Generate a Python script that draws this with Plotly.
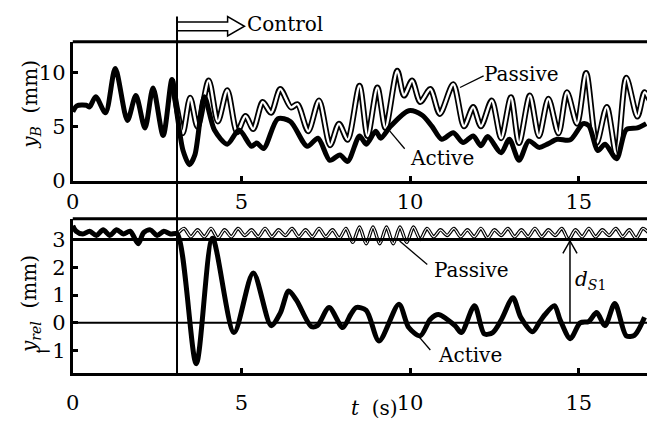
import plotly.graph_objects as go

# ---------------- data ----------------
# upper panel: y_B (mm)
t_active_top = [0.0, 0.12, 0.4, 0.5, 0.68, 0.97, 1.26, 1.62, 1.87, 2.14, 2.38, 2.68, 2.94, 3.1, 3.27,
                3.46, 3.62, 3.9, 4.2, 4.58, 4.93, 5.3, 5.45, 5.66, 6.08, 6.45, 6.95, 7.27, 7.62, 7.92,
                8.15, 8.5, 8.7, 8.98, 9.13, 9.42, 9.96, 10.35, 10.65, 10.94, 11.28, 11.57, 11.87, 12.1,
                12.3, 12.7, 12.94, 13.23, 13.52, 13.82, 14.07, 14.36, 14.75, 15.13, 15.3, 15.57, 15.78,
                16.12, 16.41, 16.74, 17.0]
yB_active = [6.4, 6.95, 7.0, 6.85, 7.8, 6.3, 10.4, 5.6, 7.9, 4.9, 8.6, 4.2, 9.4, 6.0, 2.8,
             1.5, 2.4, 7.8, 4.7, 3.4, 4.7, 3.2, 3.5, 3.0, 5.75, 5.5, 3.2, 3.95, 1.9, 2.4,
             1.8, 4.15, 3.4, 4.6, 3.95, 5.05, 6.5, 6.1, 5.05, 3.85, 4.45, 3.55, 4.15, 3.25,
             4.1, 2.6, 3.85, 1.9, 3.7, 3.1, 3.4, 3.85, 3.8, 5.3, 5.1, 2.8, 3.4,
             2.05, 4.75, 4.9, 5.3]

t_passive_top = [2.94, 3.1, 3.26, 3.48, 3.7, 4.03, 4.3, 4.58, 4.87, 5.12, 5.35, 5.63, 5.88, 6.15,
                 6.47, 6.66, 6.98, 7.3, 7.63, 7.89, 8.15, 8.5, 8.74, 9.03, 9.27, 9.62, 9.82, 10.06,
                 10.3, 10.6, 10.88, 11.28, 11.6, 11.87, 12.1, 12.42, 12.7, 12.99, 13.23, 13.55,
                 13.82, 14.1, 14.4, 14.65, 14.95, 15.22, 15.53, 15.83, 16.12, 16.41, 16.74, 16.95, 17.1]
yB_passive = [9.4, 6.5, 4.4, 7.7, 5.0, 9.3, 5.5, 8.4, 4.5, 6.0, 4.8, 7.3, 6.3, 8.5,
              6.8, 7.1, 4.6, 7.45, 3.3, 5.3, 3.8, 8.8, 4.15, 8.65, 4.9, 10.2, 7.9, 9.3,
              7.3, 8.5, 6.2, 8.95, 5.05, 6.85, 5.05, 7.45, 3.95, 7.75, 3.5, 7.9,
              4.15, 7.6, 4.4, 8.2, 5.3, 10.0, 3.5, 6.85, 2.35, 9.55, 5.95, 8.2, 7.5]

# lower panel: y_rel (mm)
t_active_low = [0.0, 0.1, 0.3, 0.5, 0.7, 0.9, 1.1, 1.3, 1.5, 1.7, 1.94, 2.1, 2.3, 2.5, 2.7, 2.9, 3.1,
                3.66, 4.14, 4.78, 5.35, 5.88, 6.15, 6.4, 6.63, 7.07, 7.25, 7.6, 8.0, 8.24, 8.4, 8.7,
                9.08, 9.67, 9.96, 10.3, 10.6, 10.84, 11.33, 11.52, 11.91, 12.2, 12.45, 12.7, 13.05,
                13.28, 13.63, 13.85, 14.0, 14.28, 14.45, 14.75, 15.04, 15.3, 15.53, 15.78, 16.07,
                16.41, 16.65, 16.95]
yrel_active = [3.5, 3.3, 3.2, 3.3, 3.15, 3.35, 3.15, 3.35, 3.2, 3.3, 2.85, 3.25, 3.35, 3.15, 3.3, 3.2, 3.2,
               -1.47, 3.05, -0.35, 1.8, -0.1, 0.35, 1.15, 0.82, -0.13, -0.1, 0.55, -0.17, 0.3, 0.55, 0.45,
               -0.65, 0.67, -0.17, -0.47, 0.13, 0.3, -0.1, -0.35, 0.62, -0.4, -0.35, 0.1, 0.9,
               0.2, -0.32, 0.05, 0.3, 0.62, 0.1, -0.57, 0.0, 0.05, 0.37, -0.1, 0.7,
               -0.47, -0.45, 0.2]

t_passive_low = [3.1, 3.3, 3.5, 3.7, 3.9, 4.1, 4.3, 4.5, 4.7, 4.9, 5.1, 5.3, 5.5, 5.7, 5.9, 6.1, 6.3,
                 6.5, 6.7, 6.9, 7.1, 7.3, 7.5, 7.7, 7.9, 8.1, 8.3, 8.5, 8.7, 8.9, 9.1, 9.3, 9.5, 9.7,
                 9.9, 10.1, 10.3, 10.5, 10.7, 10.9, 11.1, 11.3, 11.5, 11.7, 11.9, 12.1, 12.3, 12.5,
                 12.7, 12.9, 13.1, 13.3, 13.5, 13.7, 13.9, 14.1, 14.3, 14.5, 14.7, 14.9, 15.1, 15.3,
                 15.5, 15.7, 15.9, 16.1, 16.3, 16.5, 16.7, 16.9, 17.1]
yrel_passive = [3.2, 3.4, 3.1, 3.35, 3.1, 3.4, 3.05, 3.35, 3.1, 3.4, 3.15, 3.35, 3.1, 3.4, 3.1, 3.35, 3.15,
                3.4, 3.1, 3.35, 3.1, 3.4, 3.1, 3.35, 3.05, 3.4, 2.9, 3.45, 2.85, 3.45, 2.85, 3.45, 2.85, 3.45,
                2.9, 3.45, 3.0, 3.4, 3.1, 3.35, 3.15, 3.4, 3.1, 3.35, 3.1, 3.4, 3.05, 3.35,
                3.15, 3.4, 3.1, 3.35, 3.1, 3.4, 3.1, 3.35, 3.15, 3.4, 3.0, 3.35, 3.1, 3.4,
                3.1, 3.35, 3.15, 3.4, 3.1, 3.35, 3.05, 3.4, 3.2]

x_ticks = [0, 5, 10, 15]
yB_ticks = [0, 5, 10]
yrel_ticks = [-1, 0, 1, 2, 3]

t_control = 3.09
d_S1_t = 14.74
d_S1_level = 3.0

# ---------------- figure ----------------
W, H = 647, 433
FONT = "DejaVu Serif"
X0 = 66.5 / W

fig = go.Figure()

fig.add_trace(go.Scatter(x=t_passive_top, y=yB_passive, mode="lines", line=dict(color="black", width=6, shape="spline", smoothing=0.8),
                         xaxis="x", yaxis="y", hoverinfo="skip"))
fig.add_trace(go.Scatter(x=t_passive_top, y=yB_passive, mode="lines", line=dict(color="white", width=2.5, shape="spline", smoothing=0.8),
                         xaxis="x", yaxis="y", hoverinfo="skip"))
fig.add_trace(go.Scatter(x=t_active_top, y=yB_active, mode="lines", line=dict(color="black", width=5, shape="spline", smoothing=0.8),
                         xaxis="x", yaxis="y", hoverinfo="skip"))

fig.add_trace(go.Scatter(x=t_passive_low, y=yrel_passive, mode="lines", line=dict(color="black", width=3.5, shape="spline", smoothing=0.8),
                         xaxis="x2", yaxis="y2", hoverinfo="skip"))
fig.add_trace(go.Scatter(x=t_passive_low, y=yrel_passive, mode="lines", line=dict(color="white", width=1.2, shape="spline", smoothing=0.8),
                         xaxis="x2", yaxis="y2", hoverinfo="skip"))
fig.add_trace(go.Scatter(x=t_active_low, y=yrel_active, mode="lines", line=dict(color="black", width=5, shape="spline", smoothing=0.8),
                         xaxis="x2", yaxis="y2", hoverinfo="skip"))

axis_common = dict(showgrid=False, zeroline=False, showline=True, linecolor="black", linewidth=3,
                   ticks="inside", ticklen=5, tickwidth=3, tickcolor="black",
                   tickfont=dict(family=FONT, size=21, color="black"))

x_range = [0, (W - 66.5) / 34.1]
fig.update_layout(
    width=W, height=H, margin=dict(l=0, r=0, t=0, b=0),
    paper_bgcolor="white", plot_bgcolor="white", showlegend=False,
    font=dict(family=FONT, color="black"),
    xaxis=dict(domain=[X0, 1], range=x_range, anchor="y", tickvals=x_ticks, **axis_common),
    yaxis=dict(domain=[1 - 186 / H, 1 - 43 / H], range=[0, 12.88], anchor="x", tickvals=yB_ticks, **axis_common),
    xaxis2=dict(domain=[X0, 1], range=x_range, anchor="y2", tickvals=x_ticks, ticklabelstandoff=8, **axis_common),
    yaxis2=dict(domain=[1 - 384 / H, 1 - 225 / H], range=[-1.82, 3.75], anchor="x2", tickvals=yrel_ticks, **axis_common),
)

def py(p):
    return 1 - p / H

shapes = []
shapes.append(dict(type="line", xref="paper", yref="paper", x0=X0, x1=1, y0=py(43), y1=py(43),
                   line=dict(color="black", width=3)))
shapes.append(dict(type="line", xref="paper", yref="paper", x0=X0, x1=1, y0=py(225), y1=py(225),
                   line=dict(color="black", width=3)))
shapes.append(dict(type="line", xref="x2 domain", yref="y2", x0=0, x1=1, y0=d_S1_level, y1=d_S1_level,
                   line=dict(color="black", width=3)))
shapes.append(dict(type="line", xref="x2 domain", yref="y2", x0=0, x1=1, y0=0, y1=0,
                   line=dict(color="black", width=2)))
shapes.append(dict(type="line", xref="x", yref="paper", x0=t_control, x1=t_control, y0=py(384), y1=py(17),
                   line=dict(color="black", width=2)))
path = (f"M {t_control},{py(22.7)} L 4.59,{py(22.7)} L 4.59,{py(17)} L 5.09,{py(27)} "
        f"L 4.59,{py(37)} L 4.59,{py(31.7)} L {t_control},{py(31.7)}")
shapes.append(dict(type="path", xref="x", yref="paper", path=path, line=dict(color="black", width=1.5)))
shapes.append(dict(type="line", xref="x", yref="y", x0=11.48, y0=8.65, x1=12.18, y1=9.73, line=dict(color="black", width=1.3)))
shapes.append(dict(type="line", xref="x", yref="y", x0=9.40, y0=4.6, x1=9.84, y1=2.97, line=dict(color="black", width=1.3)))
shapes.append(dict(type="line", xref="x2", yref="y2", x0=9.69, y0=2.95, x1=10.51, y1=2.1, line=dict(color="black", width=1.3)))
shapes.append(dict(type="line", xref="x2", yref="y2", x0=10.16, y0=-0.35, x1=10.6, y1=-0.98, line=dict(color="black", width=1.3)))
shapes.append(dict(type="line", xref="x2", yref="y2", x0=d_S1_t, x1=d_S1_t, y0=0, y1=d_S1_level - 0.05,
                   line=dict(color="black", width=1.5)))
shapes.append(dict(type="path", xref="x2", yref="y2",
                   path=f"M {d_S1_t - 0.21},{d_S1_level - 0.5} L {d_S1_t},{d_S1_level - 0.05} L {d_S1_t + 0.21},{d_S1_level - 0.5}",
                   line=dict(color="black", width=1.5)))
fig.update_layout(shapes=shapes)

lab = dict(family=FONT, size=20, color="black")
c = dict(showarrow=False, font=lab, xanchor="center", yanchor="middle")
ann = [
    dict(text="Control", xref="x", yref="paper", x=6.29, y=py(25), **c),
    dict(text="Passive", xref="x", yref="y", x=13.3, y=9.9, **c),
    dict(text="Active", xref="x", yref="y", x=10.95, y=2.07, **c),
    dict(text="Passive", xref="x2", yref="y2", x=11.83, y=1.89, **c),
    dict(text="Active", xref="x2", yref="y2", x=11.77, y=-1.16, **c),
    dict(text="<i>d</i><sub><i>S</i>1</sub>", xref="x2", yref="y2", x=15.35, y=1.54, **c),
    dict(text="<i>y</i><sub><i>B</i></sub>&nbsp;&nbsp;(mm)", xref="paper", yref="paper", x=24 / W, y=py(107),
         textangle=-90, **c),
    dict(text="<i>y</i><sub><i>rel</i></sub>&nbsp;&nbsp;(mm)", xref="paper", yref="paper", x=24 / W, y=py(313),
         textangle=-90, **c),
    dict(text="<i>t</i>&nbsp;&nbsp;(s)", xref="paper", yref="paper", x=397 / W, y=py(420),
         showarrow=False, font=lab, xanchor="right", yanchor="middle"),
]
fig.update_layout(annotations=ann)

fig.write_html("out.html")
